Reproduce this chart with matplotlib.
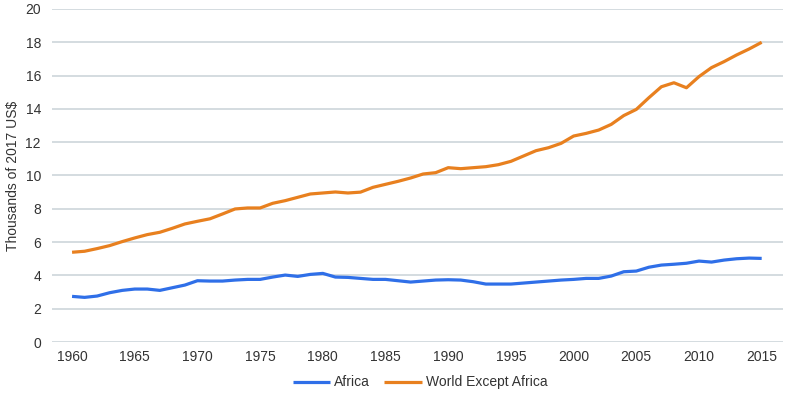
import numpy as np
import matplotlib
matplotlib.use("Agg")
import matplotlib.pyplot as plt

plt.rcParams['font.family'] = ['Liberation Sans', 'DejaVu Sans']

years = list(range(1960, 2016))
africa = [2.74, 2.68, 2.76, 2.96, 3.10, 3.18, 3.18, 3.10, 3.26, 3.42,
          3.68, 3.66, 3.66, 3.72, 3.76, 3.76, 3.90, 4.02, 3.94, 4.06,
          4.12, 3.90, 3.88, 3.82, 3.76, 3.76, 3.68, 3.60, 3.66, 3.72,
          3.74, 3.72, 3.62, 3.48, 3.48, 3.48, 3.54, 3.60, 3.66, 3.72,
          3.76, 3.82, 3.82, 3.96, 4.22, 4.26, 4.49, 4.62, 4.67, 4.73,
          4.86, 4.80, 4.92, 5.00, 5.04, 5.02]
world = [5.39, 5.45, 5.61, 5.79, 6.03, 6.25, 6.45, 6.59, 6.83, 7.09,
         7.25, 7.40, 7.69, 7.99, 8.05, 8.05, 8.33, 8.49, 8.69, 8.89,
         8.95, 9.01, 8.95, 9.00, 9.29, 9.47, 9.65, 9.85, 10.09, 10.17,
         10.47, 10.41, 10.47, 10.53, 10.65, 10.85, 11.17, 11.49, 11.67, 11.93,
         12.37, 12.53, 12.73, 13.07, 13.60, 13.97, 14.67, 15.33, 15.57, 15.27,
         15.94, 16.48, 16.84, 17.24, 17.60, 18.00]

fig = plt.figure(figsize=(7.85, 3.94), dpi=100)
ax = fig.add_axes([52 / 785, 1 - 342 / 394, 731 / 785, 333 / 394])

ax.plot(years, africa, color='#2f6fe8', lw=2.3, label='Africa', solid_capstyle='butt')
ax.plot(years, world, color='#e8801f', lw=2.3, label='World Except Africa', solid_capstyle='butt')

ax.set_xlim(1958.4, 2016.7)
ax.set_ylim(0, 20)
ax.set_yticks(range(0, 21, 2))
ax.set_xticks(range(1960, 2016, 5))
ax.grid(axis='y', color='#cdd6da', lw=1.2)
ax.set_axisbelow(True)
for s in ax.spines.values():
    s.set_visible(False)
ax.tick_params(length=0, labelsize=10, colors='#333333', pad=6)
ax.tick_params(axis='y', pad=8)
ax.set_ylabel('Thousands of 2017 US\\$', fontsize=10, color='#333333', labelpad=4)

fig.legend(loc='lower center', bbox_to_anchor=(0.535, -0.02), ncol=2,
           frameon=False, fontsize=10, handlelength=2.7, columnspacing=1.0,
           handletextpad=0.3, labelcolor='#333333')

fig.savefig('out.png', dpi=100)
